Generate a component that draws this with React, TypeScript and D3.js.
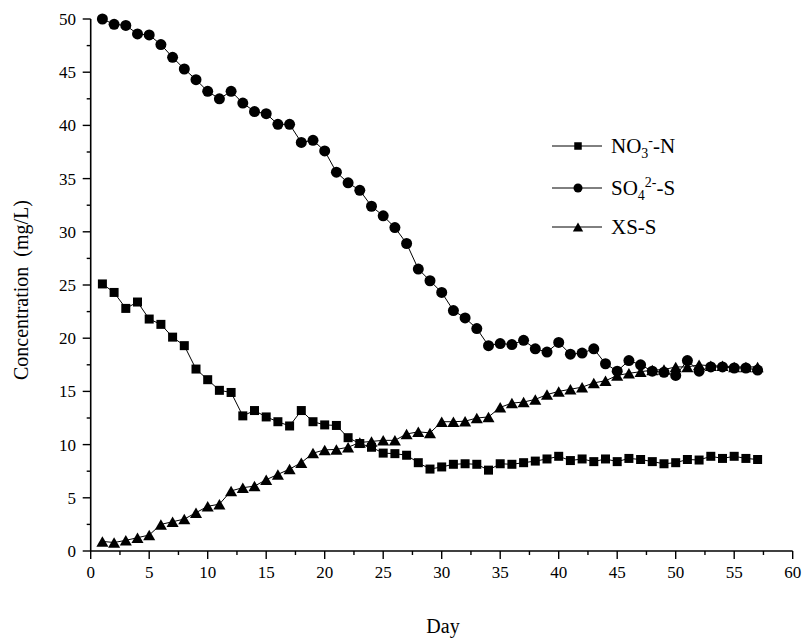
import React from "react";
import * as d3 from "d3";

const days = [1,2,3,4,5,6,7,8,9,10,11,12,13,14,15,16,17,18,19,20,21,22,23,24,25,26,27,28,29,30,31,32,33,34,35,36,37,38,39,40,41,42,43,44,45,46,47,48,49,50,51,52,53,54,55,56,57];
const no3 = [25.1,24.3,22.8,23.4,21.8,21.3,20.1,19.3,17.1,16.1,15.1,14.9,12.7,13.2,12.6,12.15,11.75,13.2,12.15,11.85,11.8,10.65,10.1,9.75,9.2,9.15,9.0,8.3,7.7,7.9,8.15,8.2,8.15,7.6,8.2,8.15,8.3,8.45,8.65,8.9,8.5,8.65,8.4,8.65,8.4,8.7,8.6,8.4,8.2,8.3,8.6,8.55,8.9,8.7,8.9,8.7,8.6];
const so4 = [50.0,49.5,49.4,48.6,48.5,47.6,46.4,45.3,44.3,43.2,42.5,43.2,42.1,41.3,41.1,40.1,40.1,38.4,38.6,37.6,35.6,34.6,33.9,32.4,31.5,30.4,28.9,26.5,25.4,24.3,22.6,21.9,20.9,19.3,19.5,19.4,19.8,19.0,18.7,19.6,18.5,18.6,19.0,17.6,16.9,17.9,17.5,16.9,16.8,16.5,17.9,16.9,17.3,17.3,17.2,17.2,17.0];
const xs = [0.9,0.8,1.0,1.25,1.5,2.5,2.75,3.0,3.6,4.2,4.4,5.65,5.95,6.1,6.7,7.2,7.7,8.3,9.2,9.5,9.55,9.75,10.2,10.3,10.4,10.4,11.0,11.2,11.1,12.15,12.15,12.2,12.5,12.6,13.5,13.9,14.0,14.25,14.7,15.0,15.2,15.4,15.8,16.0,16.5,16.7,16.85,17.0,17.05,17.3,17.3,17.5,17.4,17.4,17.3,17.3,17.3];
const xTicks = [0,5,10,15,20,25,30,35,40,45,50,55,60];
const yTicks = [0,5,10,15,20,25,30,35,40,45,50];

const FONT = "'Liberation Serif', 'Times New Roman', serif";

type Kind = "square" | "circle" | "triangle";

function Marker({ kind, x, y, s }: { kind: Kind; x: number; y: number; s: number }) {
  if (kind === "square") return <rect x={x - s / 2} y={y - s / 2} width={s} height={s} fill="#000" />;
  if (kind === "circle") return <circle cx={x} cy={y} r={s / 2} fill="#000" />;
  const w = s * 1.15, h = s;
  return <path d={`M${x},${y - h / 2}L${x + w / 2},${y + h / 2}L${x - w / 2},${y + h / 2}Z`} fill="#000" />;
}

export default function App() {
  const x = d3.scaleLinear().domain([0, 60]).range([90.7, 792.7]);
  const y = d3.scaleLinear().domain([0, 50]).range([551, 19]);
  const line = d3.line<number>().x((_, i) => x(days[i])).y((v) => y(v));
  const series: { data: number[]; kind: Kind; size: number }[] = [
    { data: no3, kind: "square", size: 9 },
    { data: so4, kind: "circle", size: 11 },
    { data: xs, kind: "triangle", size: 10.5 },
  ];
  const xMinor = d3.range(2.5, 60, 5);
  const yMinor = d3.range(2.5, 50, 5);
  const legend = [
    { kind: "square" as Kind, y: 146, size: 7.5 },
    { kind: "circle" as Kind, y: 188, size: 9 },
    { kind: "triangle" as Kind, y: 227, size: 9 },
  ];
  return (
    <svg width={805} height={642} style={{ position: "absolute", left: 0, top: 0, background: "#fff" }} fontFamily={FONT}>
      <rect x={0} y={0} width={805} height={642} fill="#fff" />
      {/* axes */}
      <line x1={x(0)} x2={x(60)} y1={y(0)} y2={y(0)} stroke="#000" strokeWidth={1.6} />
      <line x1={x(0)} x2={x(0)} y1={y(0)} y2={y(50)} stroke="#000" strokeWidth={1.6} />
      {xTicks.map((t) => (
        <g key={"xt" + t}>
          <line x1={x(t)} x2={x(t)} y1={y(0)} y2={y(0) + 8} stroke="#000" strokeWidth={1.4} />
          <text x={x(t)} y={578} textAnchor="middle" fontSize={17}>{t}</text>
        </g>
      ))}
      {xMinor.map((t) => (
        <line key={"xm" + t} x1={x(t)} x2={x(t)} y1={y(0)} y2={y(0) + 4} stroke="#000" strokeWidth={1.4} />
      ))}
      {yTicks.map((t) => (
        <g key={"yt" + t}>
          <line x1={x(0) - 8} x2={x(0)} y1={y(t)} y2={y(t)} stroke="#000" strokeWidth={1.4} />
          <text x={76} y={y(t) + 6} textAnchor="end" fontSize={17}>{t}</text>
        </g>
      ))}
      {yMinor.map((t) => (
        <line key={"ym" + t} x1={x(0) - 4} x2={x(0)} y1={y(t)} y2={y(t)} stroke="#000" strokeWidth={1.4} />
      ))}
      <text x={443} y={633} textAnchor="middle" fontSize={20}>Day</text>
      <text transform={`translate(28,290) rotate(-90)`} textAnchor="middle" fontSize={20} style={{ whiteSpace: "pre" }}>
        {"Concentration  (mg/L)"}
      </text>
      {/* series */}
      {series.map((s, si) => (
        <g key={"s" + si}>
          <path d={line(s.data) || ""} fill="none" stroke="#000" strokeWidth={1} />
          {s.data.map((v, i) => (
            <Marker key={i} kind={s.kind} x={x(days[i])} y={y(v)} s={s.size} />
          ))}
        </g>
      ))}
      {/* legend */}
      {legend.map((l, i) => (
        <g key={"lg" + i}>
          <line x1={552} x2={602} y1={l.y} y2={l.y} stroke="#000" strokeWidth={1} />
          <Marker kind={l.kind} x={578} y={l.y} s={l.size} />
        </g>
      ))}
      <text x={611} y={153} fontSize={21}>
        NO<tspan fontSize={14} dy={5}>3</tspan><tspan fontSize={14} dy={-13}>-</tspan><tspan dy={8}>-N</tspan>
      </text>
      <text x={611} y={195} fontSize={21}>
        SO<tspan fontSize={14} dy={5}>4</tspan><tspan fontSize={14} dy={-13}>2-</tspan><tspan dy={8}>-S</tspan>
      </text>
      <text x={611} y={234} fontSize={21}>XS-S</text>
    </svg>
  );
}
